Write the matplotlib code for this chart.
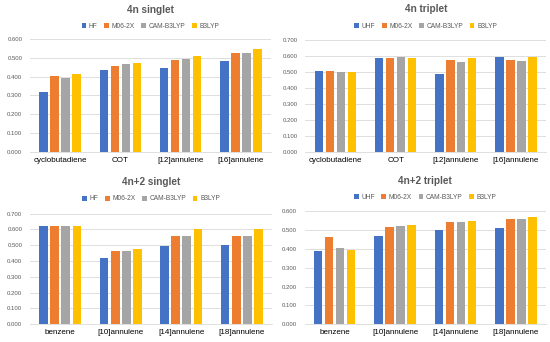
import numpy as np
import matplotlib.pyplot as plt

# Series colours (Excel default palette)
COLORS = ['#4472C4', '#ED7D31', '#A5A5A5', '#FFC000']
TEXT_COLOR = '#595959'
GRID_COLOR = '#D9D9D9'

methods_singlet = ['HF', 'M06-2X', 'CAM-B3LYP', 'B3LYP']
methods_triplet = ['UHF', 'M06-2X', 'CAM-B3LYP', 'B3LYP']

molecules_4n = ['cyclobutadiene', 'COT', '[12]annulene', '[16]annulene']
molecules_4n2 = ['benzene', '[10]annulene', '[14]annulene', '[18]annulene']

# values per method, one entry per molecule
singlet_4n = [
    [0.318, 0.433, 0.447, 0.483],   # HF
    [0.402, 0.457, 0.486, 0.523],   # M06-2X
    [0.395, 0.466, 0.492, 0.526],   # CAM-B3LYP
    [0.414, 0.473, 0.507, 0.549],   # B3LYP
]
triplet_4n = [
    [0.506, 0.587, 0.487, 0.595],
    [0.504, 0.589, 0.575, 0.575],
    [0.501, 0.591, 0.560, 0.566],
    [0.497, 0.587, 0.587, 0.595],
]
singlet_4n2 = [
    [0.622, 0.420, 0.495, 0.501],
    [0.622, 0.460, 0.558, 0.558],
    [0.624, 0.464, 0.558, 0.558],
    [0.622, 0.476, 0.600, 0.602],
]
triplet_4n2 = [
    [0.388, 0.466, 0.499, 0.510],
    [0.462, 0.517, 0.540, 0.556],
    [0.402, 0.520, 0.540, 0.556],
    [0.395, 0.526, 0.549, 0.566],
]

W, H = 550, 342
plt.rcParams['font.family'] = ['Liberation Sans', 'DejaVu Sans']


def px_axes(fig, left, right, top, bottom):
    # pixel box (origin top-left) -> figure fraction axes
    return fig.add_axes([left / W, (H - bottom) / H, (right - left) / W, (bottom - top) / H])


def draw_panel(fig, box, title_y, legend_y, title, methods, molecules, values, ymax):
    ax = px_axes(fig, *box)
    x = np.arange(len(molecules))
    step = 0.182
    width = 0.141
    for i, (m, vals) in enumerate(zip(methods, values)):
        ax.bar(x + (i - 1.5) * step, vals, width=width, color=COLORS[i], label=m, zorder=3)

    ax.set_xlim(-0.5, len(molecules) - 0.5)
    ax.set_ylim(0, ymax)
    ticks = np.arange(0, ymax + 0.001, 0.1)
    ax.set_yticks(ticks)
    ax.set_yticklabels(['%.3f' % t for t in ticks])
    ax.set_xticks(x)
    ax.set_xticklabels(molecules, fontsize=5.8, color='black')
    ax.tick_params(axis='y', labelsize=4.3, labelcolor=TEXT_COLOR, length=0, pad=5.5)
    ax.tick_params(axis='x', length=0, pad=3.5)
    ax.yaxis.grid(True, color=GRID_COLOR, linewidth=0.6, zorder=0)
    for s in ['top', 'right', 'left']:
        ax.spines[s].set_visible(False)
    ax.spines['bottom'].set_color(GRID_COLOR)
    ax.spines['bottom'].set_linewidth(0.6)

    cx = (box[0] + box[1]) / 2 / W
    ax.legend(loc='center', bbox_to_anchor=(cx, 1 - legend_y / H), bbox_transform=fig.transFigure,
              ncol=4, frameon=False, fontsize=4.8, handlelength=0.7, handleheight=0.7,
              handletextpad=0.4, columnspacing=1.0, labelcolor=TEXT_COLOR, borderpad=0)
    fig.text(cx, 1 - title_y / H, title, ha='center', va='center',
             fontsize=7.2, fontweight='bold', color=TEXT_COLOR)
    return ax


fig = plt.figure(figsize=(5.5, 3.42), dpi=100)

draw_panel(fig, (30, 271, 39, 151.7), 10, 26, '4n singlet',
           methods_singlet, molecules_4n, singlet_4n, 0.6)
draw_panel(fig, (305.4, 546, 40, 151.7), 9, 26, '4n triplet',
           methods_triplet, molecules_4n, triplet_4n, 0.7)
draw_panel(fig, (30, 272, 213.5, 324.3), 182, 199, '4n+2 singlet',
           methods_singlet, molecules_4n2, singlet_4n2, 0.7)
draw_panel(fig, (304.5, 546, 211, 324.3), 181, 197, '4n+2 triplet',
           methods_triplet, molecules_4n2, triplet_4n2, 0.6)

fig.savefig('out.png', dpi=100)
